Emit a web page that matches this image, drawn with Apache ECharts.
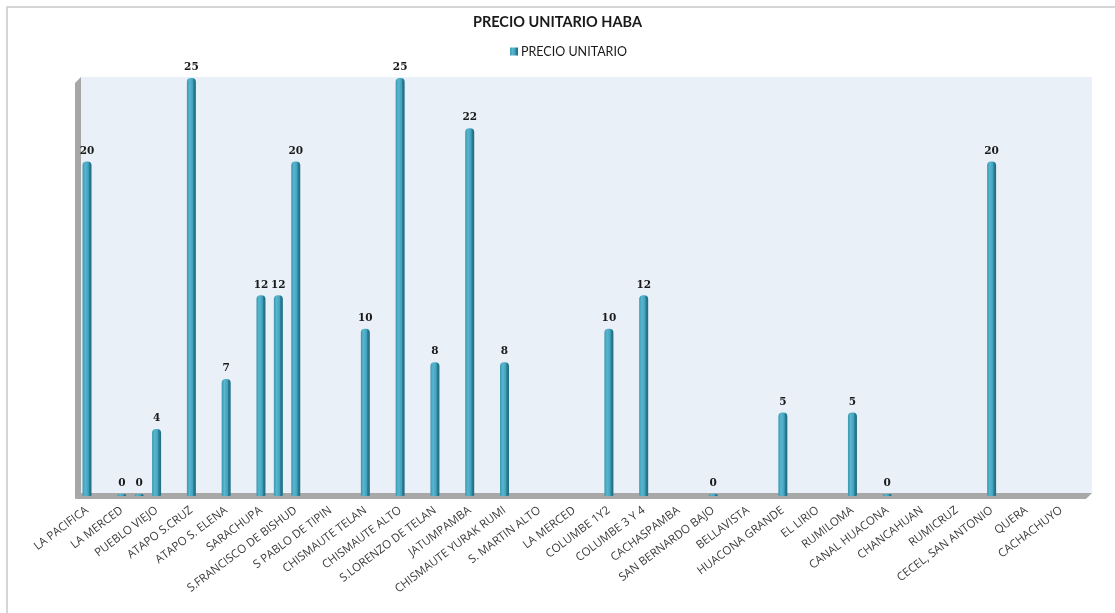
<!DOCTYPE html>
<html>
<head>
<meta charset="utf-8">
<script src="https://cdn.jsdelivr.net/npm/echarts@6/dist/echarts.min.js"></script>
<style>
html,body{margin:0;padding:0;background:#fff;}
#chart{width:1115px;height:613px;}
</style>
</head>
<body>
<div id="chart"></div>
<script>
// 58 categories; the source chart only prints every other name
const categories = [
  'LA PACIFICA','', 'LA MERCED','', 'PUEBLO VIEJO','', 'ATAPO S.CRUZ','', 'ATAPO S. ELENA','',
  'SARACHUPA','', 'S.FRANCISCO DE BISHUD','', 'S PABLO DE TIPIN','', 'CHISMAUTE TELAN','',
  'CHISMAUTE ALTO','', 'S.LORENZO DE TELAN','', 'JATUMPAMBA','', 'CHISMAUTE YURAK RUMI','',
  'S. MARTIN ALTO','', 'LA MERCED','', 'COLUMBE 1Y2','', 'COLUMBE 3 Y 4','', 'CACHASPAMBA','',
  'SAN BERNARDO BAJO','', 'BELLAVISTA','', 'HUACONA GRANDE','', 'EL LIRIO','', 'RUMILOMA','',
  'CANAL HUACONA','', 'CHANCAHUAN','', 'RUMICRUZ','', 'CECEL, SAN ANTONIO','', 'QUERA','',
  'CACHACHUYO',''
];
const precioUnitario = [
  20,null, 0,0, 4,null, 25,null, 7,null,
  12,12, 20,null, null,null, 10,null,
  25,null, 8,null, 22,null, 8,null,
  null,null, null,null, 10,null, 12,null, null,null,
  0,null, null,null, 5,null, null,null, 5,null,
  0,null, null,null, null,null, 20,null, null,null,
  null,null
];
const seriesName = 'PRECIO UNITARIO';
const titleText = 'PRECIO UNITARIO HABA';

const chart = echarts.init(document.getElementById('chart'));
chart.setOption({
  animation: false,
  backgroundColor: '#ffffff',
  title: {
    text: titleText, left: 'center', top: 10,
    textStyle: {fontFamily: 'Lato', fontSize: 14.5, fontWeight: 'bold', color: '#1a1a1a'}
  },
  legend: {
    data: [seriesName], top: 40, left: 505,
    icon: 'rect', itemWidth: 8, itemHeight: 8, itemGap: 3,
    textStyle: {fontFamily: 'Lato', fontSize: 12.5, color: '#1a1a1a', padding: [0,0,0,-2]}
  },
  graphic: [
    {type: 'rect', shape: {x: 7, y: 7, width: 1200, height: 700}, style: {fill: 'none', stroke: '#c8c8c8', lineWidth: 1.5}, z: -10, silent: true},
    {type: 'rect', shape: {x: 81, y: 77, width: 1011, height: 417}, style: {fill: '#e9f0f8'}, z: -9, silent: true},
    {type: 'polygon', shape: {points: [[75,83],[81,77],[81,494],[75,499]]}, style: {fill: '#a6a6a6'}, z: -8, silent: true},
    {type: 'polygon', shape: {points: [[75,499],[81,493],[1092,493],[1086,499]]}, style: {fill: '#a8a8a8'}, z: -8, silent: true}
  ],
  grid: {left: 78.3, right: 27.7, top: 78, bottom: 117, containLabel: false},
  xAxis: {
    type: 'category', data: categories,
    axisLine: {show: false}, axisTick: {show: false},
    axisLabel: {
      interval: 0, rotate: 37, margin: 13,
      fontFamily: 'Open Sans', fontSize: 11.5, color: '#3a3a3a'
    }
  },
  yAxis: {
    type: 'value', min: 0, max: 25, interval: 5, show: false,
    splitLine: {show: false}
  },
  series: [{
    name: seriesName, type: 'bar', data: precioUnitario,
    barWidth: 9, barMinHeight: 2,
    itemStyle: {
      color: new echarts.graphic.LinearGradient(0, 0, 1, 0, [
        {offset: 0, color: '#3b97b1'},
        {offset: 0.3, color: '#58b6cf'},
        {offset: 0.65, color: '#41a2bd'},
        {offset: 0.75, color: '#2a7d95'},
        {offset: 1, color: '#236b80'}
      ]),
      borderRadius: [4, 4, 1, 1]
    },
    label: {
      show: true, position: 'top', distance: 5,
      fontFamily: 'DejaVu Serif', fontWeight: 'bold', fontSize: 10.5, color: '#1a1a1a'
    }
  }]
});
</script>
</body>
</html>
